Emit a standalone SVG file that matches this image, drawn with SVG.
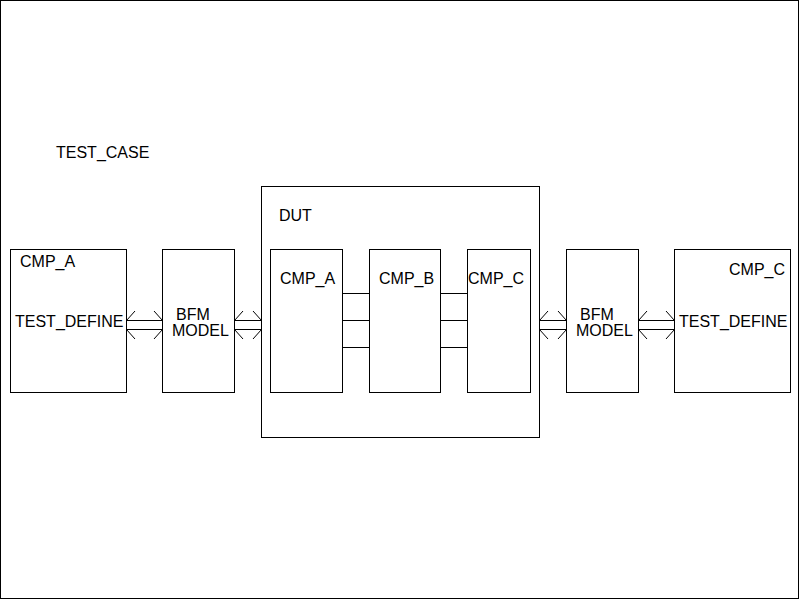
<svg xmlns="http://www.w3.org/2000/svg" width="800" height="600" viewBox="0 0 800 600">
<style>
.box{fill:#fff;stroke:#000;stroke-width:1}
.ln{fill:none;stroke:#000;stroke-width:1}
text{font-family:"Liberation Sans",Arial,sans-serif;font-size:16px;fill:#000}
</style>
<rect x="0" y="0" width="800" height="600" fill="#fff"/>
<g id="test_case">
<rect x="0.5" y="0.5" width="798" height="598" class="box"/>
<text x="56" y="158">TEST_CASE</text>
</g>
<g id="dut">
<rect x="261.5" y="186.5" width="278" height="251" class="box"/>
<text x="279" y="221">DUT</text>
</g>
<g id="cmp_a_tb">
<rect x="10.5" y="249.5" width="116" height="143" class="box"/>
<text x="20" y="267">CMP_A</text>
<text x="15" y="327">TEST_DEFINE</text>
</g>
<g id="bfm_left">
<rect x="162.5" y="249.5" width="72" height="143" class="box"/>
<text x="176" y="320">BFM</text>
<text x="172" y="336">MODEL</text>
</g>
<g id="dut_cmp_a">
<rect x="270.5" y="249.5" width="72" height="143" class="box"/>
<text x="280" y="284">CMP_A</text>
</g>
<g id="dut_cmp_b">
<rect x="369.5" y="249.5" width="71" height="143" class="box"/>
<text x="379" y="284">CMP_B</text>
</g>
<g id="dut_cmp_c">
<rect x="467.5" y="249.5" width="63" height="143" class="box"/>
<text x="468" y="284">CMP_C</text>
</g>
<g id="bfm_right">
<rect x="566.5" y="249.5" width="72" height="143" class="box"/>
<text x="580" y="320">BFM</text>
<text x="576" y="336">MODEL</text>
</g>
<g id="cmp_c_tb">
<rect x="674.5" y="249.5" width="116" height="143" class="box"/>
<text x="729" y="275">CMP_C</text>
<text x="679" y="327">TEST_DEFINE</text>
</g>
<g id="connectors">
<path class="ln" d="M126.5,320.5H162.5M126.5,329.5H162.5M135,311L126.5,320.5M135,339L126.5,329.5M154,311L162.5,320.5M154,339L162.5,329.5"/>
<path class="ln" d="M234.5,320.5H261.5M234.5,329.5H261.5M243,311L234.5,320.5M243,339L234.5,329.5M253,311L261.5,320.5M253,339L261.5,329.5"/>
<path class="ln" d="M539.5,320.5H566.5M539.5,329.5H566.5M548,311L539.5,320.5M548,339L539.5,329.5M558,311L566.5,320.5M558,339L566.5,329.5"/>
<path class="ln" d="M638.5,320.5H674.5M638.5,329.5H674.5M647,311L638.5,320.5M647,339L638.5,329.5M666,311L674.5,320.5M666,339L674.5,329.5"/>
<path class="ln" d="M342.5,293.5H369.5M342.5,320.5H369.5M342.5,347.5H369.5M440.5,293.5H467.5M440.5,320.5H467.5M440.5,347.5H467.5"/>
</g>
</svg>
